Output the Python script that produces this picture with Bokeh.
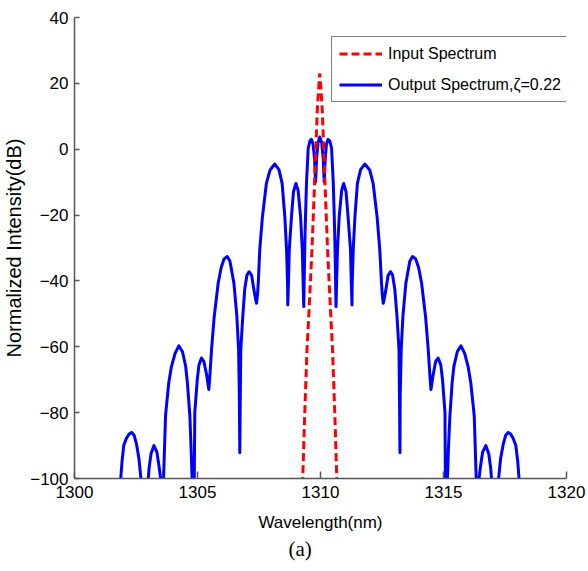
from bokeh.plotting import figure
from bokeh.models import Range1d, FixedTicker, Legend, LegendItem, Title
from bokeh.embed import file_html
from bokeh.resources import INLINE

# Output spectrum (blue)
wl_out = [1301.85, 1301.93, 1302.00, 1302.11, 1302.22, 1302.32, 1302.42, 1302.52, 1302.62, 1302.70, 1302.74,
          1302.87,
          1302.97, 1303.03, 1303.11, 1303.23, 1303.35, 1303.43, 1303.52,
          1303.59, 1303.62, 1303.70, 1303.83, 1303.94, 1304.09, 1304.24, 1304.39, 1304.52, 1304.59, 1304.69,
          1304.74, 1304.78, 1304.81, 1304.83, 1304.85,
          1304.89, 1304.99, 1305.06, 1305.16, 1305.26, 1305.37, 1305.46,
          1305.51, 1305.57, 1305.68, 1305.84, 1305.96, 1306.08, 1306.21, 1306.32, 1306.48, 1306.60, 1306.67,
          1306.70, 1306.72, 1306.74,
          1306.76, 1306.84, 1306.92, 1307.01, 1307.10, 1307.20, 1307.29, 1307.36, 1307.40,
          1307.44, 1307.47, 1307.53, 1307.64, 1307.80, 1307.95, 1308.14, 1308.31, 1308.44, 1308.55, 1308.62,
          1308.66, 1308.67,
          1308.70, 1308.73, 1308.82, 1308.90, 1309.00, 1309.09, 1309.19, 1309.26, 1309.32,
          1309.36, 1309.39, 1309.43, 1309.50, 1309.57, 1309.63, 1309.70, 1309.76, 1309.80,
          1309.84, 1309.90, 1309.97, 1310.05, 1310.11, 1310.15,
          1310.19, 1310.24, 1310.31, 1310.38, 1310.45, 1310.52, 1310.56, 1310.59, 1310.63,
          1310.69, 1310.76, 1310.86, 1310.94, 1311.04, 1311.12, 1311.22, 1311.25, 1311.28,
          1311.29, 1311.33, 1311.40, 1311.50, 1311.63, 1311.80, 1312.00, 1312.14, 1312.30, 1312.41, 1312.48,
          1312.51, 1312.55,
          1312.59, 1312.66, 1312.75, 1312.85, 1312.93, 1313.02, 1313.11, 1313.19,
          1313.21, 1313.23, 1313.24,
          1313.28, 1313.35, 1313.47, 1313.63, 1313.74, 1313.87, 1313.99, 1314.11, 1314.27, 1314.38, 1314.44,
          1314.49, 1314.58, 1314.68, 1314.78, 1314.89, 1314.96, 1315.06,
          1315.09, 1315.11, 1315.14, 1315.16,
          1315.20, 1315.26, 1315.35, 1315.42, 1315.56, 1315.71, 1315.86, 1316.00, 1316.11, 1316.25, 1316.33,
          1316.36,
          1316.43, 1316.51, 1316.59, 1316.72, 1316.84, 1316.92, 1316.98,
          1317.08,
          1317.20, 1317.24, 1317.32, 1317.43, 1317.53, 1317.63, 1317.73, 1317.83, 1317.94, 1318.02, 1318.10]
db_out = [-103, -95, -90, -87.8, -86.5, -86, -86.8, -89.5, -94, -100, -105,
          -115,
          -103, -97, -92.5, -90, -92, -96, -101,
          -115, -100, -81, -71, -66, -62, -59.7, -61.5, -66, -71, -81,
          -91, -100, -118, -100, -118,
          -80, -70, -65.5, -63.4, -64.5, -68.5, -73,
          -68, -60.9, -50.8, -40.7, -36, -33.3, -32.6, -34, -40.7, -50.8, -60.9,
          -75, -92.2, -75,
          -60.9, -50.8, -42.5, -38.2, -37.2, -38.3, -42.5, -45.5, -46.8,
          -44, -40.7, -30.6, -20.5, -10.4, -6.3, -4.5, -6.2, -10.4, -20.5, -30.6,
          -40.7, -47.3,
          -40, -30.6, -20.5, -13, -10.4, -12.5, -20.5, -30.6, -47.8,
          -30, -20.5, -10.4, 0.3, 2.5, 3.0, 1.5, -3, -10,
          -3, 2, 3.7, 2, -3, -10,
          -3, 1.5, 3.0, 2.5, 0.3, -10.4, -20.5, -30, -47.8,
          -30.6, -20.5, -12.5, -10.4, -13, -20.5, -30.6, -40, -47.3,
          -40.7, -30.6, -20.5, -10.4, -6.2, -4.5, -6.3, -10.4, -20.5, -30.6, -40.7,
          -44, -46.8,
          -45.5, -42.5, -38.3, -37.2, -38.2, -42.5, -50.8, -60.9,
          -75, -92.2, -75,
          -60.9, -50.8, -40.7, -34, -32.6, -33.3, -36, -40.7, -50.8, -60.9, -68,
          -73, -68.5, -64.5, -63.4, -65.5, -70, -80,
          -118, -100, -118, -100,
          -91, -81, -71, -66, -61.5, -59.7, -62, -66, -71, -81, -100,
          -115,
          -101, -96, -92, -90, -92.5, -97, -103,
          -115,
          -105, -100, -94, -89.5, -86.8, -86, -86.5, -87.8, -90, -95, -103]

# Input spectrum (red dashed)
wl_in = [1309.27, 1309.36, 1309.45, 1309.54, 1309.65, 1309.76, 1309.81, 1309.87, 1309.93, 1309.97,
         1310.01, 1310.07, 1310.13, 1310.18, 1310.29, 1310.40, 1310.49, 1310.58, 1310.67]
db_in = [-102, -80, -61, -48, -31, -10, 0, 12, 19, 23,
         19, 12, 0, -10, -31, -48, -61, -80, -102]

x_ticks = [1300, 1305, 1310, 1315, 1320]
y_ticks = [-100, -80, -60, -40, -20, 0, 20, 40]

FONT = "Liberation Sans"

p = figure(frame_width=492, frame_height=461, output_backend="svg", toolbar_location=None,
           x_range=Range1d(1300, 1320), y_range=Range1d(-100, 40),
           min_border_left=73, min_border_right=20, min_border_top=17, min_border_bottom=90,
           background_fill_color="white", border_fill_color="white", outline_line_color=None)

p.xgrid.visible = False
p.ygrid.visible = False

r_in = p.line(wl_in, db_in, line_color="#ff0000", line_width=3, line_dash="8 4")
r_out = p.line(wl_out, db_out, line_color="#0000ff", line_width=3, line_join="round")
p.renderers = [r_out, r_in]

for ax in (p.xaxis[0], p.yaxis[0]):
    ax.axis_line_color = "#555555"
    ax.axis_line_width = 1.5
    ax.major_tick_line_color = "#555555"
    ax.major_tick_line_width = 1.5
    ax.major_tick_out = 0
    ax.minor_tick_line_color = None
    ax.major_label_text_font = FONT
    ax.major_label_text_font_size = "17px"
    ax.major_label_text_color = "black"
    ax.axis_label_text_font = FONT
    ax.axis_label_text_font_size = "17px"
    ax.axis_label_text_font_style = "normal"
    ax.axis_label_text_color = "black"

p.yaxis[0].axis_label_text_font_size = "20px"
p.xaxis[0].ticker = FixedTicker(ticks=x_ticks)
p.yaxis[0].ticker = FixedTicker(ticks=y_ticks)
p.xaxis[0].major_tick_in = 7
p.yaxis[0].major_tick_in = 5
p.xaxis[0].major_label_standoff = 7
p.yaxis[0].major_label_standoff = 6
p.xaxis[0].axis_label_standoff = 12
p.yaxis[0].axis_label_standoff = 2
p.xaxis[0].axis_label = "Wavelength(nm)"
p.yaxis[0].axis_label = "Normalized Intensity(dB)"

legend = Legend(items=[LegendItem(label="Input Spectrum", renderers=[r_in]),
                       LegendItem(label="Output Spectrum,\u03b6=0.22", renderers=[r_out])],
                location=(257, 376), orientation="vertical",
                border_line_color="black", border_line_width=1, background_fill_color="white",
                background_fill_alpha=1.0,
                label_text_font=FONT, label_text_font_size="16px", label_text_color="black",
                glyph_width=43, glyph_height=19, label_height=19, label_standoff=6,
                spacing=12, padding=7, margin=0)
p.add_layout(legend)

cap = Title(text="(a)", align="left", offset=214, standoff=0, text_font="Liberation Serif",
            text_font_size="21px", text_font_style="normal", text_color="black")
p.add_layout(cap, "below")

open("out.html", "w").write(file_html(p, INLINE))
